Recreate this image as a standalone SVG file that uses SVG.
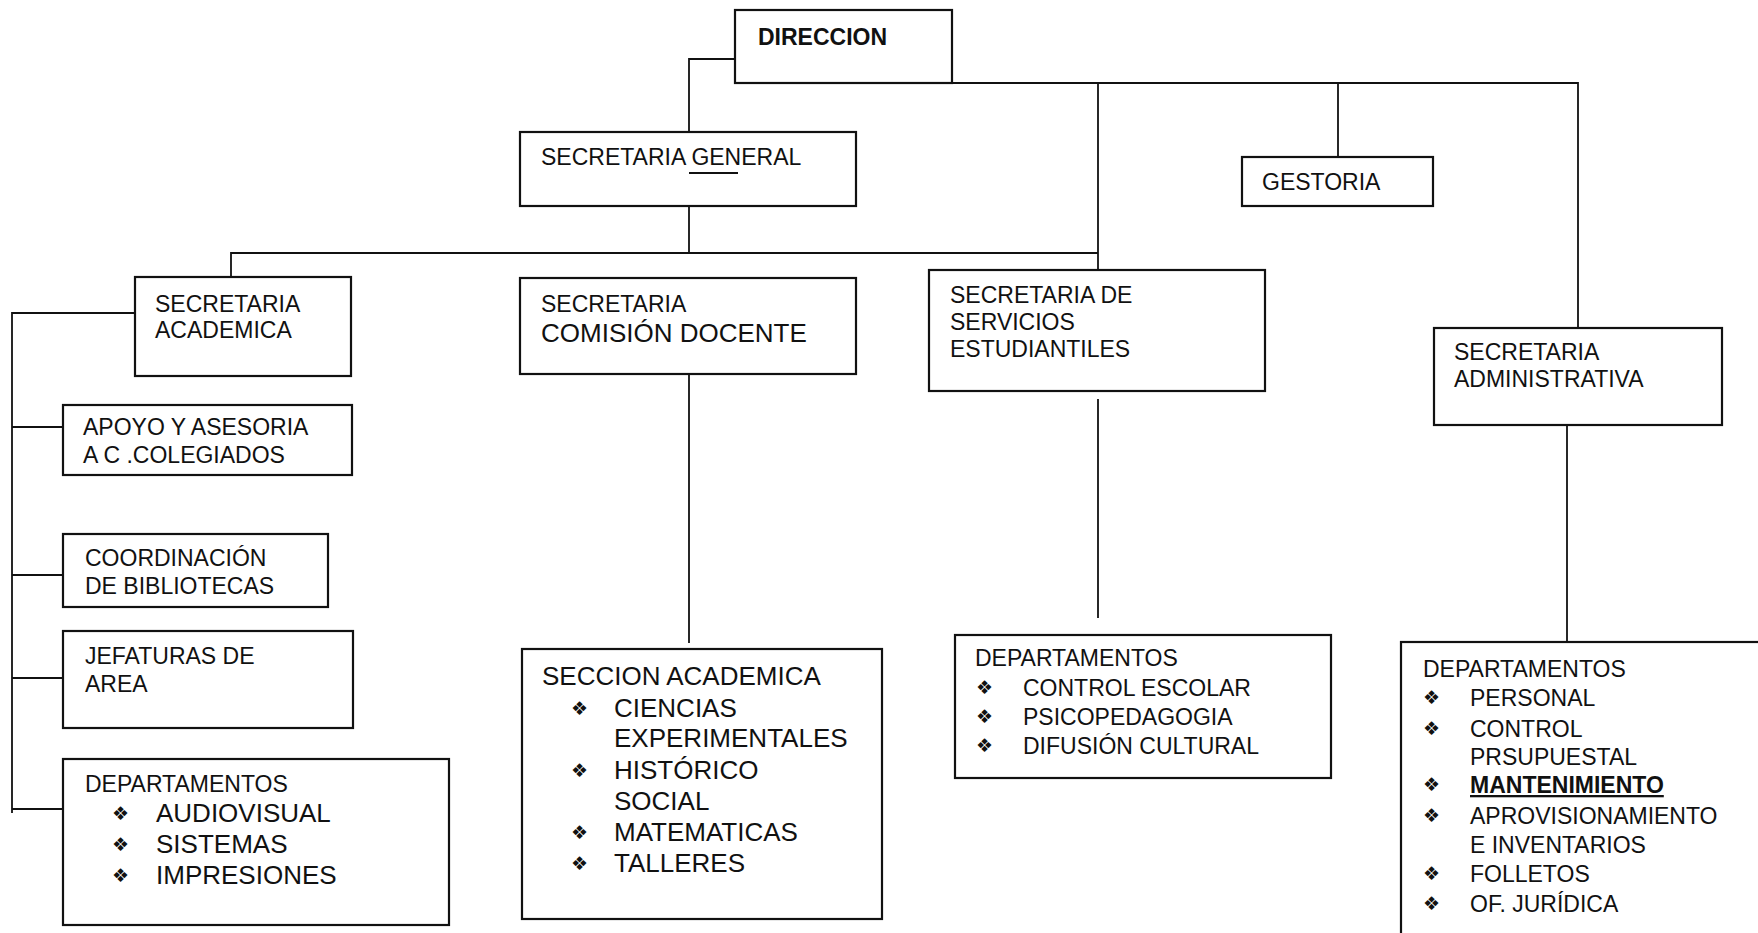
<svg xmlns="http://www.w3.org/2000/svg" width="1758" height="933" viewBox="0 0 1758 933">
<style>
.box{fill:#fff;stroke:#111;stroke-width:2.2}
.t{font-family:"Liberation Sans",Arial,sans-serif;font-size:23px;fill:#111}
.l{font-size:26px}
.b{font-weight:bold}
.bu{font-family:"DejaVu Sans",sans-serif;font-size:19px;fill:#111}
.c{fill:none;stroke:#111;stroke-width:1.8}
</style>
<rect width="1758" height="933" fill="#fff"/>
<g id="connectors">
<path class="c" d="M735,59 H689 V132"/>
<path class="c" d="M952,83 H1578 V328"/>
<path class="c" d="M1098,83 V270"/>
<path class="c" d="M1338,83 V157"/>
<path class="c" d="M689,206 V253"/>
<path class="c" d="M231,277 V253 H1098"/>
<path class="c" d="M689,368 V643"/>
<path class="c" d="M1098,399 V618"/>
<path class="c" d="M1567,425 V642"/>
<path class="c" d="M135,313 H12 V813"/>
<path class="c" d="M12,427 H63 M12,575 H63 M12,678 H63 M12,809 H63"/>
</g>
<g id="direccion">
<rect class="box" x="735" y="10" width="217" height="73"/>
<text class="t b" x="758" y="45">DIRECCION</text>
</g>
<g id="sec-general">
<rect class="box" x="520" y="132" width="336" height="74"/>
<text class="t" x="541" y="165">SECRETARIA GENERAL</text>
<line x1="689" y1="173" x2="738" y2="173" stroke="#111" stroke-width="2"/>
</g>
<g id="gestoria">
<rect class="box" x="1242" y="157" width="191" height="49"/>
<text class="t" x="1262" y="190">GESTORIA</text>
</g>
<g id="sec-academica">
<rect class="box" x="135" y="277" width="216" height="99"/>
<text class="t" x="155" y="312">SECRETARIA</text>
<text class="t" x="155" y="338">ACADEMICA</text>
</g>
<g id="sec-comision">
<rect class="box" x="520" y="278" width="336" height="96"/>
<text class="t" x="541" y="312">SECRETARIA</text>
<text class="t l" x="541" y="342">COMISIÓN DOCENTE</text>
</g>
<g id="sec-servicios">
<rect class="box" x="929" y="270" width="336" height="121"/>
<text class="t" x="950" y="303">SECRETARIA DE</text>
<text class="t" x="950" y="330">SERVICIOS</text>
<text class="t" x="950" y="357">ESTUDIANTILES</text>
</g>
<g id="sec-administrativa">
<rect class="box" x="1434" y="328" width="288" height="97"/>
<text class="t" x="1454" y="360">SECRETARIA</text>
<text class="t" x="1454" y="387">ADMINISTRATIVA</text>
</g>
<g id="apoyo">
<rect class="box" x="63" y="405" width="289" height="70"/>
<text class="t" x="83" y="435">APOYO Y ASESORIA</text>
<text class="t" x="83" y="463">A C .COLEGIADOS</text>
</g>
<g id="coordinacion">
<rect class="box" x="63" y="534" width="265" height="73"/>
<text class="t" x="85" y="566">COORDINACIÓN</text>
<text class="t" x="85" y="594">DE BIBLIOTECAS</text>
</g>
<g id="jefaturas">
<rect class="box" x="63" y="631" width="290" height="97"/>
<text class="t" x="85" y="664">JEFATURAS DE</text>
<text class="t" x="85" y="692">AREA</text>
</g>
<g id="deptos-academica">
<rect class="box" x="63" y="759" width="386" height="166"/>
<text class="t" x="85" y="792">DEPARTAMENTOS</text>
<text class="bu" x="112" y="820">❖</text><text class="t l" x="156" y="822">AUDIOVISUAL</text>
<text class="bu" x="112" y="851">❖</text><text class="t l" x="156" y="853">SISTEMAS</text>
<text class="bu" x="112" y="882">❖</text><text class="t l" x="156" y="884">IMPRESIONES</text>
</g>
<g id="seccion-academica">
<rect class="box" x="522" y="649" width="360" height="270"/>
<text class="t l" x="542" y="685">SECCION ACADEMICA</text>
<text class="bu" x="571" y="715">❖</text><text class="t l" x="614" y="717">CIENCIAS</text>
<text class="t l" x="614" y="747">EXPERIMENTALES</text>
<text class="bu" x="571" y="777">❖</text><text class="t l" x="614" y="779">HISTÓRICO</text>
<text class="t l" x="614" y="810">SOCIAL</text>
<text class="bu" x="571" y="839">❖</text><text class="t l" x="614" y="841">MATEMATICAS</text>
<text class="bu" x="571" y="870">❖</text><text class="t l" x="614" y="872">TALLERES</text>
</g>
<g id="deptos-servicios">
<rect class="box" x="955" y="635" width="376" height="143"/>
<text class="t" x="975" y="666">DEPARTAMENTOS</text>
<text class="bu" x="976" y="694">❖</text><text class="t" x="1023" y="696">CONTROL ESCOLAR</text>
<text class="bu" x="976" y="723">❖</text><text class="t" x="1023" y="725">PSICOPEDAGOGIA</text>
<text class="bu" x="976" y="752">❖</text><text class="t" x="1023" y="754">DIFUSIÓN CULTURAL</text>
</g>
<g id="deptos-administrativa">
<rect class="box" x="1401" y="642" width="370" height="310"/>
<text class="t" x="1423" y="677">DEPARTAMENTOS</text>
<text class="bu" x="1423" y="704">❖</text><text class="t" x="1470" y="706">PERSONAL</text>
<text class="bu" x="1423" y="735">❖</text><text class="t" x="1470" y="737">CONTROL</text>
<text class="t" x="1470" y="765">PRSUPUESTAL</text>
<text class="bu" x="1423" y="791">❖</text><text class="t b" x="1470" y="793" text-decoration="underline">MANTENIMIENTO</text>
<text class="bu" x="1423" y="822">❖</text><text class="t" x="1470" y="824">APROVISIONAMIENTO</text>
<text class="t" x="1470" y="853">E INVENTARIOS</text>
<text class="bu" x="1423" y="880">❖</text><text class="t" x="1470" y="882">FOLLETOS</text>
<text class="bu" x="1423" y="910">❖</text><text class="t" x="1470" y="912">OF. JURÍDICA</text>
</g>
</svg>
